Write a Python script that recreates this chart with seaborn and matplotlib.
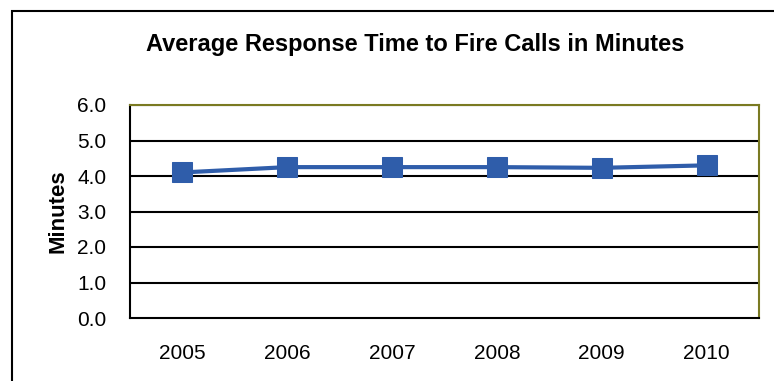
import matplotlib
matplotlib.use("Agg")
import matplotlib.pyplot as plt
import seaborn as sns
import pandas as pd
from matplotlib.patches import Rectangle

years = ["2005", "2006", "2007", "2008", "2009", "2010"]
minutes = [4.10, 4.25, 4.25, 4.25, 4.23, 4.30]
yticks = [0.0, 1.0, 2.0, 3.0, 4.0, 5.0, 6.0]

sns.set_theme(style="white")
plt.rcParams['font.family'] = ['Liberation Sans', 'DejaVu Sans']
plt.rcParams['text.color'] = 'black'
plt.rcParams['axes.labelcolor'] = 'black'
plt.rcParams['xtick.color'] = 'black'
plt.rcParams['ytick.color'] = 'black'

df = pd.DataFrame({"Year": years, "Minutes": minutes})

fig = plt.figure(figsize=(7.74, 3.81), dpi=100)
ax = fig.add_axes([130/774, 1-318/381, 629/774, 213/381])

sns.lineplot(data=df, x="Year", y="Minutes", ax=ax, color="#2f5daa",
             linewidth=3, marker="s", markersize=14.5, markeredgecolor="#2f5daa",
             sort=False)

ax.set_ylim(0, 6)
ax.set_xlim(-0.5, 5.5)
ax.set_yticks(yticks)
ax.set_yticklabels([f"{v:.1f}" for v in yticks], fontsize=15)
ax.set_xticks([i - 0.5 for i in range(len(years) + 1)], minor=False)
ax.set_xticklabels([])
ax.set_xticks(range(len(years)), minor=True)
ax.set_xticklabels(years, minor=True, fontsize=15)
ax.tick_params(axis="x", which="major", length=5, width=1.5, direction="out", color="black")
ax.tick_params(axis="x", which="minor", length=0, pad=19)
ax.tick_params(axis="y", length=5, width=1.5, direction="out", color="black", pad=12)

for v in yticks[1:]:
    ax.axhline(v, color="black", linewidth=1.5, zorder=0)

ax.set_xlabel("")
ax.set_ylabel("Minutes", fontsize=16, fontweight="bold", labelpad=6)
fig.text(415/774, 1 - 44/381, "Average Response Time to Fire Calls in Minutes",
         fontsize=17, fontweight="bold", ha="center", va="center")

for side in ["left", "bottom"]:
    ax.spines[side].set_color("black")
    ax.spines[side].set_linewidth(1.5)
for side in ["top", "right"]:
    ax.spines[side].set_color("#7a7a22")
    ax.spines[side].set_linewidth(1.5)

fig.patches.append(Rectangle((12/774, -0.1), 1.2, 1 - 11/381 + 0.1,
                             transform=fig.transFigure, fill=False,
                             edgecolor="black", linewidth=1.5))

fig.savefig("out.png", dpi=100)
